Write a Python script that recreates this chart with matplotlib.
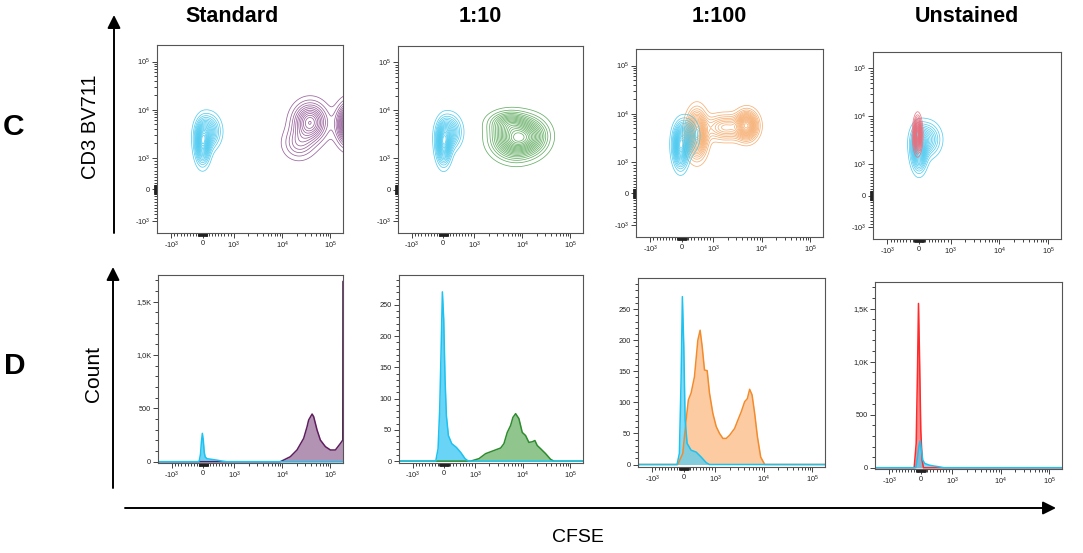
import matplotlib
matplotlib.use("Agg")
import matplotlib.pyplot as plt
import numpy as np
from matplotlib.scale import SymmetricalLogTransform
from matplotlib.ticker import FixedLocator, FixedFormatter

plt.rcParams["font.family"] = ["Liberation Sans", "DejaVu Sans"]

W, H = 1083, 553
LINTHRESH = 1000.0
LINSCALE = 0.585
XLIM = (-1970, 1.83e5)
YLIM_C = (-1800, 2.2e5)

COLUMNS = ["Standard", "1:10", "1:100", "Unstained"]

# contour populations: (CFSE centre, CD3 centre, x spread [decades], y spread [decades], weight)
CYAN_STD = [(0, 2000, 0.09, 0.24, 1.0), (185, 3550, 0.14, 0.20, 0.6)]
PURPLE_STD = [(38000, 5500, 0.21, 0.24, 1.0), (22000, 2000, 0.20, 0.20, 0.35),
              (260000, 5000, 0.16, 0.25, 1.6)]
CYAN_10 = [(10, 2000, 0.09, 0.24, 1.0), (195, 3550, 0.14, 0.20, 0.6)]
GREEN_10 = [(7200, 2600, 0.28, 0.24, 1.0), (5000, 5600, 0.24, 0.14, 0.35),
            (16000, 3000, 0.22, 0.22, 0.35)]
CYAN_100 = [(-40, 2000, 0.09, 0.24, 1.0), (150, 3500, 0.13, 0.20, 0.55)]
ORANGE_100 = [(480, 3800, 0.12, 0.27, 1.0), (4900, 5700, 0.13, 0.17, 0.9),
              (1800, 5200, 0.25, 0.15, 0.45)]
CYAN_UNST = [(0, 2000, 0.09, 0.24, 1.0), (230, 3300, 0.16, 0.20, 0.55)]
RED_UNST = [(-45, 4200, 0.045, 0.19, 1.0)]

# histograms: CFSE value, count
CYAN_STD_X = [-2000, -160, -130, -90, -60, -30, 0, 30, 60, 120, 200, 320, 450, 600, 750, 2e5]
CYAN_STD_Y = [0, 0, 8, 70, 190, 266, 200, 90, 45, 28, 25, 20, 14, 6, 0, 0]
PURPLE_STD_X = [-2000, 9000, 14600, 20100, 27700, 32600, 35200, 41500, 44800, 52700, 61800,
                78700, 100000, 127000, 162000, 181000, 182500, 2e5]
PURPLE_STD_Y = [0, 0, 47, 110, 219, 328, 391, 447, 422, 297, 203, 141, 110, 110, 172, 203, 1690, 1690]

CYAN_10_X = [-2000, -268, -193, -140, -97, -54, -11, 32, 75, 140, 248, 397, 537, 677, 783, 2e5]
CYAN_10_Y = [0, 0, 20, 84, 174, 271, 227, 131, 73, 41, 28, 22, 14, 4, 0, 0]
GREEN_10_X = [-2000, 858, 1208, 1667, 2490, 3435, 4030, 4730, 5560, 6220, 7080, 8300, 9750,
              11450, 13430, 15780, 17950, 20100, 23600, 30100, 38200, 44800, 2e5]
GREEN_10_Y = [0, 0, 4, 12, 17, 21, 28, 46, 57, 70, 76, 68, 46, 41, 30, 31, 33, 25, 20, 12, 3, 0, 0]

CYAN_100_X = [-2000, -214, -140, -86, -45, 0, 42, 105, 232, 392, 551, 711, 815, 2e5]
CYAN_100_Y = [0, 0, 18, 136, 270, 190, 71, 34, 23, 20, 12, 3, 0, 0]
ORANGE_100_X = [-2000, -191, -32, 74, 146, 232, 338, 446, 518, 583, 657, 742, 815, 923, 1045,
                1222, 1435, 1682, 1968, 2500, 2940, 3435, 4030, 4580, 5110, 5730, 6490, 7380,
                8630, 10450, 2e5]
ORANGE_100_Y = [0, 0, 18, 72, 104, 115, 141, 200, 216, 190, 152, 151, 115, 82, 61, 50, 42, 42,
                47, 58, 72, 85, 101, 106, 121, 112, 82, 45, 12, 0, 0]

RED_UNST_X = [-2000, -210, -146, -104, -73, -42, 0, 42, 84, 2e5]
RED_UNST_Y = [0, 0, 229, 920, 1548, 1077, 355, 72, 0, 0]
CYAN_UNST_X = [-2000, -157, -104, -63, -21, 21, 63, 125, 261, 417, 574, 731, 2e5]
CYAN_UNST_Y = [0, 0, 104, 198, 254, 166, 72, 41, 25, 16, 9, 0, 0]

BIEX_TICKS = [-1e3, 0, 1e3, 1e4, 1e5]
BIEX_LABELS = ["-$\\mathregular{10^{3}}$", "0", "$\\mathregular{10^{3}}$",
               "$\\mathregular{10^{4}}$", "$\\mathregular{10^{5}}$"]
K_TICKS = [0, 500, 1000, 1500]
K_LABELS = ["0", "500", "1,0K", "1,5K"]
SMALL_TICKS = [0, 50, 100, 150, 200, 250]
SMALL_LABELS = ["0", "50", "100", "150", "200", "250"]

# contour line, histogram line, histogram fill
COLORS = {
    "cyan": ("#45C8F0", "#1CC2F0", "#4FCDF4"),
    "purple": ("#8E5292", "#5E1E5E", "#A680A6"),
    "green": ("#56A656", "#2E8B2E", "#7DBB7A"),
    "orange": ("#F6A866", "#F38B2C", "#FBB57A"),
    "red": ("#E8707E", "#FF2A2A", "#FF5A5A"),
}

TR = SymmetricalLogTransform(10, LINTHRESH, LINSCALE)


def to_units(v):
    v = np.asarray(v, dtype=float)
    return TR.transform(v.ravel()).reshape(v.shape) / LINTHRESH


def from_units(u):
    u = np.asarray(u, dtype=float)
    return TR.inverted().transform(u.ravel() * LINTHRESH).reshape(u.shape)


def biex_axis(axis):
    minors = [-k * 100 for k in range(1, 10)] + [k * 100 for k in range(1, 10)]
    minors += [s * k for s in (-1, 1) for k in range(8, 160, 8)]
    minors += [k * 10 ** d for d in (3, 4) for k in range(2, 10)]
    axis.set_major_locator(FixedLocator(BIEX_TICKS))
    axis.set_major_formatter(FixedFormatter(BIEX_LABELS))
    axis.set_minor_locator(FixedLocator(minors))


def style(ax):
    for sp in ax.spines.values():
        sp.set_color("#555555")
        sp.set_linewidth(0.8)
    ax.tick_params(which="both", direction="out", colors="#222222", labelsize=5.3, width=0.6, pad=1.5)
    ax.tick_params(which="major", length=3.5)
    ax.tick_params(which="minor", length=2.2)


def draw_pop(ax, pops, color):
    gx = np.linspace(-1.05, 3.5, 360)
    gy = np.linspace(-1.0, 3.2, 340)
    UX, UY = np.meshgrid(gx, gy)
    dens = np.zeros_like(UX)
    for cx, cy, sx, sy, w in pops:
        ux, uy = float(to_units([cx])[0]), float(to_units([cy])[0])
        dens += w * np.exp(-0.5 * (((UX - ux) / sx) ** 2 + ((UY - uy) / sy) ** 2))
    levels = dens.max() * np.linspace(0.045, 0.95, 18)
    ax.contour(from_units(UX), from_units(UY), dens, levels=levels, colors=color,
               linewidths=0.55, alpha=0.9)


def draw_hist(ax, xs, ys, name, alpha=0.75):
    _, line, fill = COLORS[name]
    ax.fill_between(xs, 0, ys, color=fill, alpha=alpha, lw=0)
    ax.plot(xs, ys, color=line, lw=1.1)


def px_rect(l, t, r, b):
    return [l / W, 1 - b / H, (r - l) / W, (b - t) / H]


fig = plt.figure(figsize=(W / 100, H / 100), dpi=100)

over = fig.add_axes([0, 0, 1, 1])
over.set_xlim(0, W)
over.set_ylim(H, 0)
over.axis("off")

top_rects = [(157, 45, 343, 233), (398, 46, 583, 233), (636, 49, 823, 237), (873, 52, 1061, 239)]
bot_rects = [(158, 275, 343, 463), (399, 275, 583, 463), (638, 278, 825, 467), (875, 282, 1062, 469)]

contour_sets = [
    [(PURPLE_STD, "purple"), (CYAN_STD, "cyan")],
    [(GREEN_10, "green"), (CYAN_10, "cyan")],
    [(ORANGE_100, "orange"), (CYAN_100, "cyan")],
    [(CYAN_UNST, "cyan"), (RED_UNST, "red")],
]
hist_sets = [
    [(PURPLE_STD_X, PURPLE_STD_Y, "purple"), (CYAN_STD_X, CYAN_STD_Y, "cyan")],
    [(GREEN_10_X, GREEN_10_Y, "green"), (CYAN_10_X, CYAN_10_Y, "cyan")],
    [(ORANGE_100_X, ORANGE_100_Y, "orange"), (CYAN_100_X, CYAN_100_Y, "cyan")],
    [(RED_UNST_X, RED_UNST_Y, "red"), (CYAN_UNST_X, CYAN_UNST_Y, "cyan")],
]
hist_ylims = [(-12, 1750), (-3, 298), (-4, 300), (-12, 1750)]

for i in range(4):
    ax = fig.add_axes(px_rect(*top_rects[i]))
    ax.set_xscale("symlog", linthresh=LINTHRESH, linscale=LINSCALE)
    ax.set_yscale("symlog", linthresh=LINTHRESH, linscale=LINSCALE)
    for pops, name in contour_sets[i]:
        draw_pop(ax, pops, COLORS[name][0])
    ax.set_xlim(*XLIM)
    ax.set_ylim(*YLIM_C)
    biex_axis(ax.xaxis)
    biex_axis(ax.yaxis)
    style(ax)

    ax = fig.add_axes(px_rect(*bot_rects[i]))
    ax.set_xscale("symlog", linthresh=LINTHRESH, linscale=LINSCALE)
    for xs, ys, name in hist_sets[i]:
        draw_hist(ax, xs, ys, name, alpha=0.7 if i >= 2 else 0.85)
    ax.set_xlim(*XLIM)
    ax.set_ylim(*hist_ylims[i])
    biex_axis(ax.xaxis)
    if hist_ylims[i][1] > 1000:
        ax.yaxis.set_major_locator(FixedLocator(K_TICKS))
        ax.yaxis.set_major_formatter(FixedFormatter(K_LABELS))
        ax.yaxis.set_minor_locator(FixedLocator([v for v in range(100, 1800, 100) if v % 500]))
    else:
        ax.yaxis.set_major_locator(FixedLocator(SMALL_TICKS))
        ax.yaxis.set_major_formatter(FixedFormatter(SMALL_LABELS))
        ax.yaxis.set_minor_locator(FixedLocator([v for v in range(10, 300, 10) if v % 50]))
    style(ax)

title_x = [232, 480, 719, 967]
for tx, name in zip(title_x, COLUMNS):
    over.text(tx, 17, name, ha="center", va="center", fontsize=15.5, fontweight="bold")

over.text(14, 127, "C", ha="center", va="center", fontsize=21.5, fontweight="bold")
over.text(15, 366, "D", ha="center", va="center", fontsize=21.5, fontweight="bold")
over.text(90, 127, "CD3 BV711", ha="center", va="center", rotation=90, fontsize=14.5)
over.text(94, 374, "Count", ha="center", va="center", rotation=90, fontsize=15)
over.text(578, 538, "CFSE", ha="center", va="center", fontsize=14)

arrow = dict(arrowstyle="-|>,head_length=0.6,head_width=0.3", lw=1.4, color="black",
             mutation_scale=13, shrinkA=0, shrinkB=0)
over.annotate("", xy=(114, 15), xytext=(114, 233), arrowprops=arrow)
over.annotate("", xy=(113, 267), xytext=(113, 488), arrowprops=arrow)
over.annotate("", xy=(1056, 508), xytext=(125, 508), arrowprops=arrow)

fig.savefig("out.png", dpi=100)
